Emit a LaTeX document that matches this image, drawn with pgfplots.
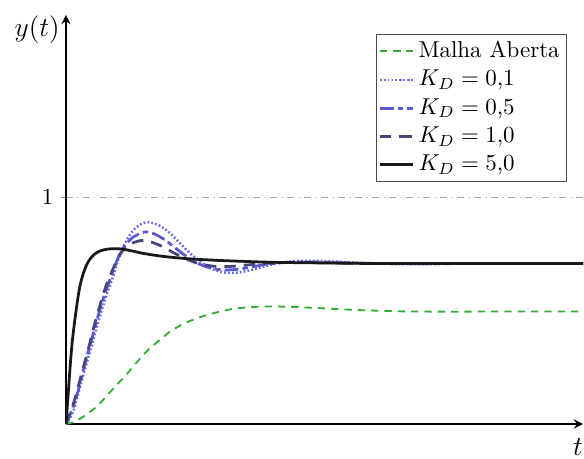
\documentclass[border=0pt]{standalone}
\usepackage{pgfplots}
\pgfplotsset{compat=1.18}

\definecolor{olgreen}{RGB}{50,175,50}
\definecolor{kdone}{RGB}{110,110,240}
\definecolor{kdfive}{RGB}{90,90,205}
\definecolor{kdten}{RGB}{70,70,125}

\begin{document}
\begin{tikzpicture}
\begin{axis}[
  scale only axis,
  width=225pt, height=178pt,
  xmin=0, xmax=10, ymin=0, ymax=1.806,
  axis lines=left,
  axis line style={-stealth, thick},
  xtick=\empty, ytick={1},
  tick align=outside, major tick length=2pt,
  ymajorgrids=true,
  major grid style={gray!70, dash dot},
  xlabel={$t$}, ylabel={$y(t)$},
  label style={font=\large},
  xlabel style={at={(axis description cs:1,0)}, anchor=north, inner sep=0pt, xshift=-2.2pt, yshift=-6pt},
  ylabel style={at={(axis description cs:0,1)}, anchor=north east, rotate=-90, inner sep=0pt, xshift=-2.6pt},
  legend style={at={(0.969,0.954)}, anchor=north east, draw=black!70,
    font=\normalsize, row sep=0pt, inner sep=1pt},
  legend cell align=left,
  legend image code/.code={
    \draw[mark repeat=2, mark phase=2, #1] plot coordinates {(0cm,0cm) (0.25cm,0cm) (0.5cm,0cm)};
  },
  every axis plot/.append style={line join=round},
  after end axis/.code={
    \path (rel axis cs:0,0) ++(-28.7pt,-14.8pt) (rel axis cs:1,1) ++(0,6.5pt);
  },
]
% open loop response
\addplot[olgreen, thick, dash pattern=on 3.2pt off 2.6pt, smooth] coordinates {
(0,0) (0.13,0.007) (0.32,0.03) (0.58,0.074) (0.77,0.12) (0.965,0.169)
(1.16,0.216) (1.35,0.267) (1.54,0.316) (1.77,0.363) (1.99,0.404) (2.25,0.44)
(2.57,0.47) (2.9,0.492) (3.28,0.51) (3.73,0.518) (4.0,0.519) (4.4,0.517)
(4.77,0.513) (5.2,0.508) (5.68,0.503) (6.2,0.499) (6.64,0.497) (7.54,0.496)
(8.5,0.497) (10,0.497)};
\addlegendentry{Malha Aberta}
% K_D = 0.1
\addplot[kdone, line width=1.1pt, dash pattern=on 0.8pt off 0.9pt, smooth] coordinates {
(0,0) (0.13,0.05) (0.26,0.154) (0.386,0.257) (0.515,0.36) (0.64,0.463)
(0.77,0.56) (0.91,0.65) (1.04,0.745) (1.17,0.81) (1.3,0.855) (1.45,0.882)
(1.59,0.891) (1.8,0.877) (2.0,0.845) (2.2,0.80) (2.39,0.756) (2.55,0.725)
(2.72,0.697) (2.9,0.678) (3.1,0.668) (3.3,0.668) (3.49,0.675) (3.75,0.69)
(4.0,0.705) (4.25,0.715) (4.52,0.72) (4.9,0.72) (5.3,0.716) (5.8,0.71)
(6.4,0.706) (7,0.706) (7.6,0.708) (8.5,0.709) (10,0.709)};
\addlegendentry{$K_D = 0{,}1$}
% K_D = 0.5
\addplot[kdfive, very thick, dash pattern=on 6pt off 1.8pt on 2.4pt off 1.8pt, smooth] coordinates {
(0,0) (0.13,0.07) (0.24,0.15) (0.36,0.26) (0.48,0.36) (0.6,0.46) (0.73,0.56)
(0.87,0.65) (1.02,0.74) (1.15,0.79) (1.3,0.825) (1.52,0.848) (1.7,0.84)
(1.9,0.815) (2.1,0.78) (2.3,0.745) (2.5,0.715) (2.7,0.695) (2.9,0.684)
(3.1,0.68) (3.35,0.684) (3.6,0.694) (3.9,0.706) (4.3,0.714) (4.8,0.715)
(5.4,0.712) (6.2,0.708) (7,0.708) (10,0.709)};
\addlegendentry{$K_D = 0{,}5$}
% K_D = 1.0
\addplot[kdten, very thick, dash pattern=on 5pt off 3.5pt, smooth] coordinates {
(0,0) (0.1,0.06) (0.19,0.125) (0.3,0.22) (0.42,0.32) (0.53,0.42) (0.64,0.51)
(0.76,0.6) (0.9,0.68) (1.05,0.75) (1.2,0.79) (1.45,0.81) (1.65,0.803)
(1.85,0.785) (2.05,0.76) (2.25,0.737) (2.5,0.713) (2.75,0.7) (2.95,0.695)
(3.2,0.696) (3.5,0.702) (3.85,0.709) (4.3,0.713) (5,0.712) (6,0.709) (10,0.709)};
\addlegendentry{$K_D = 1{,}0$}
% K_D = 5.0
\addplot[black!90, very thick, smooth] coordinates {
(0,0) (0.03,0.09) (0.077,0.242) (0.12,0.36) (0.174,0.463) (0.22,0.54)
(0.27,0.609) (0.33,0.66) (0.4,0.703) (0.48,0.733) (0.57,0.753) (0.67,0.765)
(0.8,0.772) (0.95,0.774) (1.1,0.772) (1.3,0.763) (1.5,0.753) (1.75,0.744)
(2.0,0.737) (2.4,0.729) (2.8,0.724) (3.2,0.72) (4,0.714) (5,0.711)
(6,0.709) (10,0.709)};
\addlegendentry{$K_D = 5{,}0$}
\end{axis}
\end{tikzpicture}
\end{document}
